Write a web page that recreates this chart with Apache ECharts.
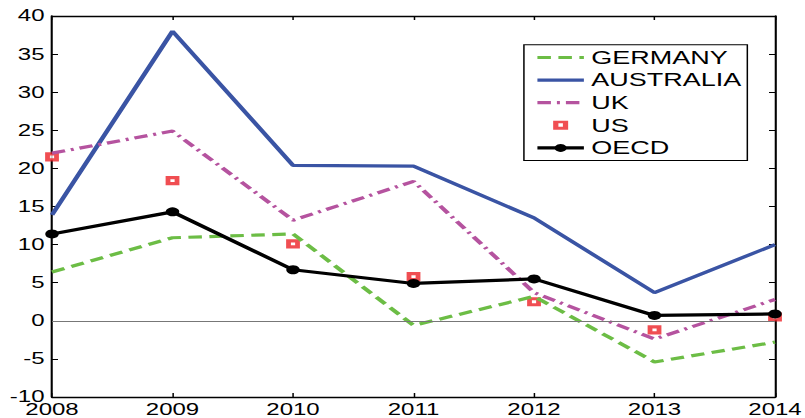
<!DOCTYPE html>
<html>
<head>
<meta charset="utf-8">
<script src="https://cdn.jsdelivr.net/npm/echarts@6/dist/echarts.min.js"></script>
<style>
  html, body { margin: 0; padding: 0; background: #fff; overflow: hidden; }
  #wrap { width: 805px; height: 418px; overflow: hidden; }
  /* the figure is laid out on a narrower canvas and widened horizontally */
  #chart { width: 537px; height: 418px; transform: scaleX(1.49907); transform-origin: 0 0; }
</style>
</head>
<body>
<div id="wrap"><div id="chart"></div></div>
<script>
const years = ['2008', '2009', '2010', '2011', '2012', '2013', '2014'];
const germany   = [6.4, 10.9, 11.4, -0.6, 3.2, -5.4, -2.8];
const australia = [13.9, 38.0, 20.4, 20.3, 13.5, 3.7, 10.0];
const uk        = [22.0, 24.9, 13.2, 18.3, 3.7, -2.4, 2.8];
const us        = [21.5, 18.4, 10.1, 5.8, 2.5, -1.2, 0.5];
const oecd      = [11.4, 14.3, 6.7, 4.9, 5.5, 0.7, 0.9];
const yTicks = { min: -10, max: 40, step: 5 };

const FONT = "'Liberation Sans', Arial, Helvetica, sans-serif";
const GREEN = '#6cbd45', BLUE = '#3a54a4', MAGENTA = '#b5539f', RED = '#ec2227', BLACK = '#000';
const LW = 3.2;

const chart = echarts.init(document.getElementById('chart'), null, { renderer: 'svg' });

const axisLine = { show: true, onZero: false, lineStyle: { color: BLACK, width: 1.4 } };
const tick = (len) => ({ show: true, inside: true, length: len, lineStyle: { color: BLACK, width: 1 } });
const noSymbol = { opacity: 0 };

const option = {
  animation: false,
  backgroundColor: '#fff',
  textStyle: { fontFamily: FONT },
  grid: { left: 34.7, right: 20, top: 16, bottom: 21, outerBoundsMode: 'none' },
  legend: {
    orient: 'vertical',
    left: 349.5,
    top: 44.7,
    padding: [3.8, 4, 3.7, 7.4],
    itemWidth: 31,
    itemHeight: 10,
    itemGap: 4.6,
    borderColor: BLACK,
    borderWidth: 1,
    backgroundColor: '#fff',
    lineStyle: { width: LW },
    textStyle: { fontSize: 18, color: BLACK, fontFamily: FONT },
    data: [
      { name: 'GERMANY', itemStyle: noSymbol },
      { name: 'AUSTRALIA', itemStyle: noSymbol },
      { name: 'UK', itemStyle: noSymbol },
      { name: 'US', icon: 'path://M0,0M31,10M10.5,0.5H20.5V9.5H10.5ZM14,3V6.5H17V3Z',
        itemStyle: { color: RED, borderWidth: 0 } },
      { name: 'OECD' }
    ]
  },
  xAxis: [
    { type: 'category', data: years, boundaryGap: false, axisLine: axisLine, axisTick: tick(4),
      axisLabel: { fontSize: 16, color: BLACK, margin: 4, fontFamily: FONT }, splitLine: { show: false } },
    { type: 'category', data: years, boundaryGap: false, position: 'top', axisLine: axisLine, axisTick: tick(4),
      axisLabel: { show: false }, splitLine: { show: false } }
  ],
  yAxis: [
    { type: 'value', min: yTicks.min, max: yTicks.max, interval: yTicks.step, axisLine: axisLine, axisTick: tick(4),
      axisLabel: { fontSize: 16, color: BLACK, margin: 5, fontFamily: FONT }, splitLine: { show: false } },
    { type: 'value', position: 'right', min: yTicks.min, max: yTicks.max, interval: yTicks.step, axisLine: axisLine,
      axisTick: tick(4), axisLabel: { show: false }, splitLine: { show: false } }
  ],
  series: [
    { name: 'GERMANY', type: 'line', data: germany, symbol: 'none',
      lineStyle: { color: GREEN, width: LW, type: [9, 5] }, itemStyle: { color: GREEN },
      markLine: { silent: true, symbol: 'none', label: { show: false },
        lineStyle: { color: '#777', width: 1, type: 'solid' }, data: [{ yAxis: 0 }] } },
    { name: 'AUSTRALIA', type: 'line', data: australia, symbol: 'none',
      lineStyle: { color: BLUE, width: LW }, itemStyle: { color: BLUE } },
    { name: 'UK', type: 'line', data: uk, symbol: 'none',
      lineStyle: { color: MAGENTA, width: LW, type: [9, 4, 2, 4] }, itemStyle: { color: MAGENTA } },
    { name: 'US', type: 'scatter', data: us, symbol: 'rect', symbolSize: 6,
      itemStyle: { color: '#fff', borderColor: RED, borderWidth: 3.2 } },
    { name: 'OECD', type: 'line', data: oecd, symbol: 'circle', symbolSize: 9, showSymbol: true,
      lineStyle: { color: BLACK, width: LW }, itemStyle: { color: BLACK } }
  ]
};

chart.setOption(option);
</script>
</body>
</html>
